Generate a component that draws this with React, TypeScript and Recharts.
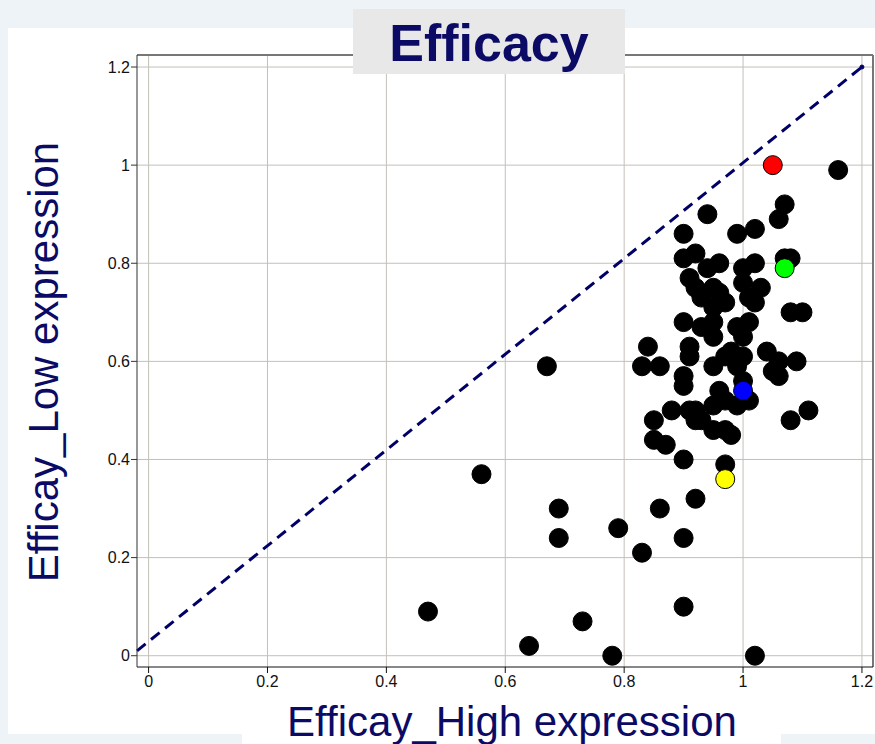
import React from "react";
import {
  ScatterChart,
  Scatter,
  XAxis,
  YAxis,
  CartesianGrid,
  ReferenceLine,
  ReferenceDot,
} from "recharts";

const tickValues = [0, 0.2, 0.4, 0.6, 0.8, 1, 1.2];
const tickLabels = ["0", "0.2", "0.4", "0.6", "0.8", "1", "1.2"];

// Efficacy under high expression (x) and low expression (y) for black points
const highExpr = [
  0.47, 0.56, 0.64, 0.67, 0.69, 0.69, 0.73, 0.78, 0.79, 0.83, 0.86, 0.9, 0.9, 0.92, 1.02, 0.9, 0.97, 1.16,
  1.07, 1.06, 0.94, 0.9, 0.99, 1.02, 0.9, 0.92, 1.07, 1.08, 0.94, 0.96, 1.0, 1.02, 0.91, 0.92, 0.93, 0.95,
  0.96, 0.97, 0.95, 1.0, 1.03, 1.01, 1.02, 1.08, 1.1, 0.9, 0.93, 0.95, 0.99, 1.01,
  0.84, 0.91, 0.91, 0.95, 1.0, 0.83, 0.86, 0.95, 0.97, 0.98, 1.0, 0.99, 1.04, 1.06, 1.09, 1.05, 1.06, 0.9,
  0.9, 1.0, 0.96, 0.97, 0.95, 0.99, 1.01, 0.88, 0.91, 0.92, 0.92, 0.93, 0.85, 0.95, 0.97, 0.98, 0.85, 0.87,
  1.08, 1.11,
];
const lowExpr = [
  0.09, 0.37, 0.02, 0.59, 0.3, 0.24, 0.07, 0.0, 0.26, 0.21, 0.3, 0.1, 0.24, 0.32, 0.0, 0.4, 0.39, 0.99,
  0.92, 0.89, 0.9, 0.86, 0.86, 0.87, 0.81, 0.82, 0.81, 0.81, 0.79, 0.8, 0.79, 0.8, 0.77, 0.75, 0.73, 0.75,
  0.74, 0.72, 0.71, 0.76, 0.75, 0.73, 0.72, 0.7, 0.7, 0.68, 0.67, 0.68, 0.67, 0.68,
  0.63, 0.63, 0.61, 0.65, 0.65, 0.59, 0.59, 0.59, 0.61, 0.62, 0.61, 0.59, 0.62, 0.6, 0.6, 0.58, 0.57, 0.57,
  0.55, 0.56, 0.54, 0.52, 0.51, 0.51, 0.52, 0.5, 0.5, 0.5, 0.48, 0.48, 0.48, 0.46, 0.46, 0.45, 0.44, 0.43,
  0.48, 0.5,
];

const highlightNames = ["red", "green", "blue", "yellow"];
const highlightColors = ["#ff0000", "#00ff00", "#0000ff", "#ffff00"];
const highlightHigh = [1.05, 1.07, 1.0, 0.97];
const highlightLow = [1.0, 0.79, 0.54, 0.36];

const blackData = highExpr.map((x, i) => ({ x, y: lowExpr[i] }));
const highlightData = highlightNames.map((name, i) => ({
  name,
  color: highlightColors[i],
  data: [{ x: highlightHigh[i], y: highlightLow[i] }],
}));

const X_DOMAIN: [number, number] = [-0.0195, 1.2186];
const Y_DOMAIN: [number, number] = [-0.023, 1.2245];

const FONT = "'Liberation Sans', Arial, Helvetica, sans-serif";
const NAVY = "#0b0b66";

const makeDot = (fill: string) => (props: any) => {
  const { cx, cy } = props;
  if (cx == null || cy == null) return <g />;
  return <circle cx={cx} cy={cy} r={9.5} fill={fill} stroke="#000" strokeWidth={1} />;
};

const fmt = (v: number) => tickLabels[tickValues.indexOf(v)] ?? String(v);

export default function App() {
  return (
    <div
      style={{
        position: "absolute",
        left: 0,
        top: 0,
        width: 875,
        height: 744,
        background: "#eef3f8",
        overflow: "hidden",
        fontFamily: FONT,
      }}
    >
      <div style={{ position: "absolute", left: 8, top: 28, width: 867, height: 706, background: "#fff" }} />
      <div style={{ position: "absolute", left: 242, top: 690, width: 539, height: 54, background: "#fff" }} />
      <div style={{ position: "absolute", left: 0, top: 0 }}>
        <ScatterChart
          width={875}
          height={744}
          margin={{ top: 55, right: 2, bottom: 47, left: 77 }}
        >
          <CartesianGrid stroke="#c4c0b8" strokeWidth={1} horizontalValues={tickValues} verticalValues={tickValues} />
          <XAxis
            type="number"
            dataKey="x"
            domain={X_DOMAIN}
            allowDataOverflow
            ticks={tickValues}
            tickFormatter={fmt}
            height={30}
            tickSize={6}
            tickMargin={3}
            stroke="#111"
            tick={{ fill: "#111", fontSize: 16, fontFamily: FONT }}
          />
          <YAxis
            type="number"
            dataKey="y"
            domain={Y_DOMAIN}
            allowDataOverflow
            ticks={tickValues}
            tickFormatter={fmt}
            width={60}
            tickSize={6}
            tickMargin={1}
            stroke="#333"
            tick={{ fill: "#111", fontSize: 16, fontFamily: FONT }}
          />
          <ReferenceLine y={Y_DOMAIN[1]} stroke="#777" strokeWidth={2} ifOverflow="visible" />
          <ReferenceLine x={X_DOMAIN[1]} stroke="#777" strokeWidth={2} ifOverflow="visible" />
          <ReferenceLine
            segment={[
              { x: -0.0195, y: 0.01 },
              { x: 1.2, y: 1.2 },
            ]}
            stroke="#000066"
            strokeWidth={3}
            strokeDasharray="11 7"
            ifOverflow="visible"
          />
          <ReferenceDot x={1.2} y={1.2} r={2} fill="#000066" stroke="#000066" ifOverflow="visible" />
          <Scatter data={blackData} fill="#000" shape={makeDot("#000")} isAnimationActive={false} />
          {highlightData.map((h) => (
            <Scatter
              key={h.name}
              name={h.name}
              data={h.data}
              fill={h.color}
              shape={makeDot(h.color)}
              isAnimationActive={false}
            />
          ))}
        </ScatterChart>
      </div>
      <div
        style={{
          position: "absolute",
          left: 353,
          top: 9,
          width: 272,
          height: 65,
          background: "#e8e8e8",
        }}
      />
      <svg
        width={875}
        height={744}
        style={{ position: "absolute", left: 0, top: 0, pointerEvents: "none" }}
      >
        <text x={489} y={61} textAnchor="middle" fontFamily={FONT} fontWeight="bold" fontSize={52} fill={NAVY}>
          Efficacy
        </text>
        <text x={512} y={736} textAnchor="middle" fontFamily={FONT} fontSize={42} fill={NAVY}>
          Efficay_High expression
        </text>
        <text
          x={0}
          y={0}
          transform="translate(58 362) rotate(-90)"
          textAnchor="middle"
          fontFamily={FONT}
          fontSize={42}
          fill={NAVY}
        >
          Efficay_Low expression
        </text>
      </svg>
    </div>
  );
}
